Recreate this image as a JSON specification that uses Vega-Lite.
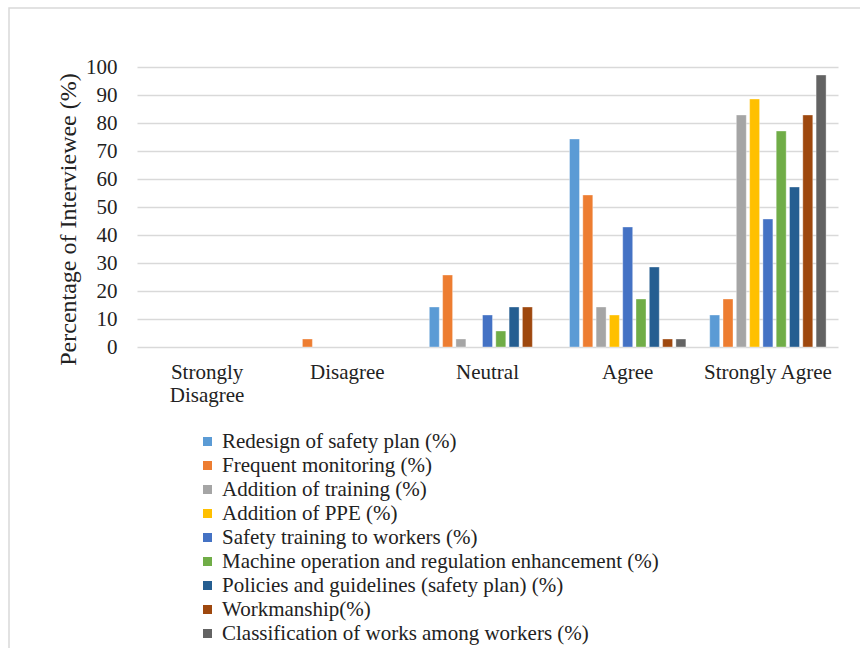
{
  "$schema": "https://vega.github.io/schema/vega-lite/v6.json",
  "autosize": "none",
  "padding": {"left": 9, "top": 8, "right": 0, "bottom": 0},
  "width": 900,
  "height": 700,
  "background": "white",
  "config": {
    "font": "Liberation Serif",
    "view": {"stroke": "#d9d9d9", "strokeWidth": 1.5},
    "axis": {
      "labelFont": "Liberation Serif",
      "titleFont": "Liberation Serif",
      "labelColor": "#222222",
      "titleColor": "#222222",
      "labelFontSize": 21,
      "titleFontSize": 24,
      "titleFontWeight": "normal",
      "domain": false,
      "ticks": false
    },
    "legend": {
      "labelFont": "Liberation Serif",
      "labelFontSize": 21,
      "labelColor": "#222222"
    }
  },
  "data": {
    "values": [
      {"response": "Disagree", "measure": "Frequent monitoring (%)", "percent": 2.86},

      {"response": "Neutral", "measure": "Redesign of safety plan (%)", "percent": 14.29},
      {"response": "Neutral", "measure": "Frequent monitoring (%)", "percent": 25.71},
      {"response": "Neutral", "measure": "Addition of training (%)", "percent": 2.86},
      {"response": "Neutral", "measure": "Safety training to workers (%)", "percent": 11.43},
      {"response": "Neutral", "measure": "Machine operation and regulation enhancement (%)", "percent": 5.71},
      {"response": "Neutral", "measure": "Policies and guidelines (safety plan) (%)", "percent": 14.29},
      {"response": "Neutral", "measure": "Workmanship(%)", "percent": 14.29},

      {"response": "Agree", "measure": "Redesign of safety plan (%)", "percent": 74.29},
      {"response": "Agree", "measure": "Frequent monitoring (%)", "percent": 54.29},
      {"response": "Agree", "measure": "Addition of training (%)", "percent": 14.29},
      {"response": "Agree", "measure": "Addition of PPE (%)", "percent": 11.43},
      {"response": "Agree", "measure": "Safety training to workers (%)", "percent": 42.86},
      {"response": "Agree", "measure": "Machine operation and regulation enhancement (%)", "percent": 17.14},
      {"response": "Agree", "measure": "Policies and guidelines (safety plan) (%)", "percent": 28.57},
      {"response": "Agree", "measure": "Workmanship(%)", "percent": 2.86},
      {"response": "Agree", "measure": "Classification of works among workers (%)", "percent": 2.86},

      {"response": "Strongly Agree", "measure": "Redesign of safety plan (%)", "percent": 11.43},
      {"response": "Strongly Agree", "measure": "Frequent monitoring (%)", "percent": 17.14},
      {"response": "Strongly Agree", "measure": "Addition of training (%)", "percent": 82.86},
      {"response": "Strongly Agree", "measure": "Addition of PPE (%)", "percent": 88.57},
      {"response": "Strongly Agree", "measure": "Safety training to workers (%)", "percent": 45.71},
      {"response": "Strongly Agree", "measure": "Machine operation and regulation enhancement (%)", "percent": 77.14},
      {"response": "Strongly Agree", "measure": "Policies and guidelines (safety plan) (%)", "percent": 57.14},
      {"response": "Strongly Agree", "measure": "Workmanship(%)", "percent": 82.86},
      {"response": "Strongly Agree", "measure": "Classification of works among workers (%)", "percent": 97.14}
    ]
  },
  "mark": {"type": "bar", "stroke": "white", "strokeWidth": 0.6, "strokeOpacity": 0.6},
  "encoding": {
    "x": {
      "field": "response",
      "type": "nominal",
      "scale": {
        "domain": ["Strongly Disagree", "Disagree", "Neutral", "Agree", "Strongly Agree"],
        "range": [128, 829],
        "paddingInner": 0.17,
        "paddingOuter": 0.085
      },
      "axis": {
        "orient": "bottom",
        "offset": -361,
        "title": null,
        "labelAngle": 0,
        "labelPadding": 14,
        "labelLineHeight": 23,
        "labelBaseline": "top",
        "labelExpr": "datum.label == 'Strongly Disagree' ? ['Strongly', 'Disagree'] : datum.label"
      }
    },
    "xOffset": {
      "field": "measure",
      "type": "nominal",
      "scale": {
        "domain": [
          "Redesign of safety plan (%)",
          "Frequent monitoring (%)",
          "Addition of training (%)",
          "Addition of PPE (%)",
          "Safety training to workers (%)",
          "Machine operation and regulation enhancement (%)",
          "Policies and guidelines (safety plan) (%)",
          "Workmanship(%)",
          "Classification of works among workers (%)"
        ],
        "paddingInner": 0.25,
        "paddingOuter": 0
      }
    },
    "y": {
      "field": "percent",
      "type": "quantitative",
      "scale": {"domain": [0, 100], "range": [339, 59], "nice": false},
      "axis": {
        "orient": "left",
        "offset": -112,
        "values": [0, 10, 20, 30, 40, 50, 60, 70, 80, 90, 100],
        "labelPadding": 4,
        "grid": true,
        "gridColor": "#d9d9d9",
        "gridWidth": 1.5,
        "title": "Percentage of Interviewee (%)",
        "titleY": 211,
        "titleX": -53,
        "titleAlign": "center",
        "titleBaseline": "middle",
        "titleAngle": -90
      }
    },
    "color": {
      "field": "measure",
      "type": "nominal",
      "scale": {
        "domain": [
          "Redesign of safety plan (%)",
          "Frequent monitoring (%)",
          "Addition of training (%)",
          "Addition of PPE (%)",
          "Safety training to workers (%)",
          "Machine operation and regulation enhancement (%)",
          "Policies and guidelines (safety plan) (%)",
          "Workmanship(%)",
          "Classification of works among workers (%)"
        ],
        "range": ["#5B9BD5", "#ED7D31", "#A5A5A5", "#FFC000", "#4472C4", "#70AD47", "#255E91", "#9E480E", "#636363"]
      },
      "legend": {
        "orient": "none",
        "legendX": 188,
        "legendY": 423,
        "direction": "vertical",
        "title": null,
        "symbolType": "square",
        "symbolSize": 81,
        "symbolStrokeWidth": 0,
        "labelOffset": 4,
        "rowPadding": 2,
        "labelLimit": 600,
        "padding": 0
      }
    }
  }
}
